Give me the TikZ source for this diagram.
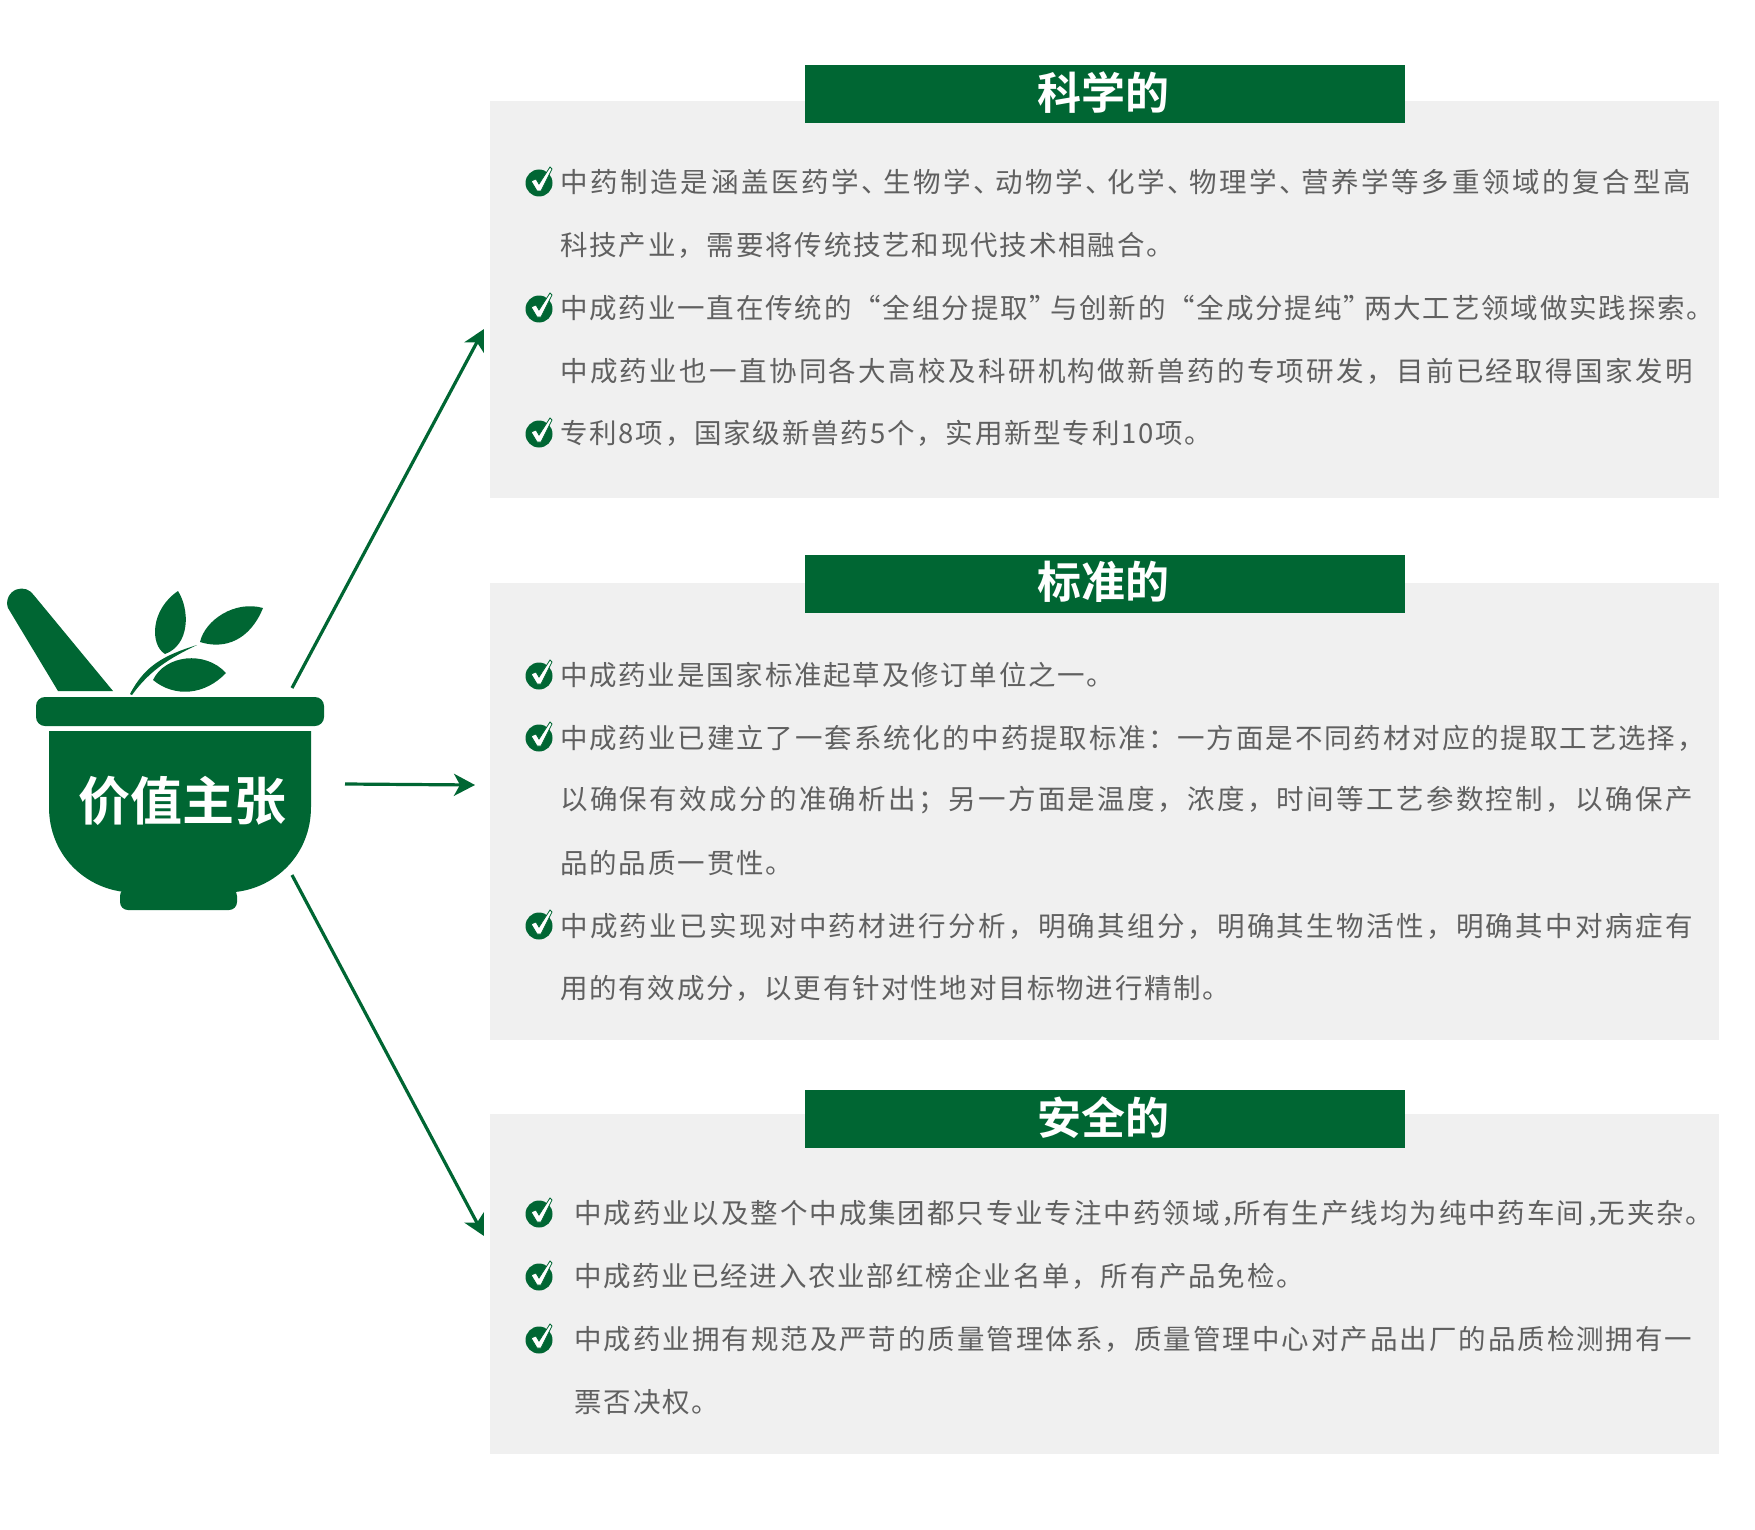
\documentclass[tikz,border=0pt]{standalone}
\usepackage{fontspec}
\usetikzlibrary{arrows.meta}
\newfontfamily\bodyfont{Noto Sans CJK SC}
\newfontfamily\titlefont{Noto Sans CJK SC Bold}
\definecolor{herbgreen}{HTML}{006633}
\definecolor{panelgray}{HTML}{F0F0F0}
\definecolor{textgray}{HTML}{606060}
\newcommand{\tightk}[1]{\kern-#1pt}

\tikzstyle{panel} = [fill=panelgray, draw=none]
\tikzstyle{header} = [fill=herbgreen, draw=none]
\tikzstyle{headtext} = [text=white, font=\titlefont\fontsize{44}{52}\selectfont, inner sep=0pt]
\tikzstyle{textline}[6.5] = [anchor=west, inner sep=0pt, text=textgray,
    font=\bodyfont\fontsize{27.5}{33}\selectfont\addfontfeatures{LetterSpace=#1}]
\tikzstyle{line} = [draw=herbgreen, line width=3.2pt, -{Stealth[length=21pt, width=22pt, inset=6pt]}]
\tikzset{
  checkdot/.pic={
    \fill[herbgreen] (0,1) circle [radius=13.5];
    \filldraw[fill=white, draw=herbgreen, line width=0.8pt]
      (-8,-1) -- (-3,-3) -- (0,2) -- (11,-15) -- (13,-13) -- (2,9) -- (-2,9) -- cycle;
  }
}

\begin{document}
\begin{tikzpicture}[x=1pt, y=-1pt]
\useasboundingbox (0,0) rectangle (1755,1530);

%Panels
\path [panel] (490,101) rectangle (1719,498);
\path [panel] (490,583) rectangle (1719,1040);
\path [panel] (490,1114) rectangle (1719,1454);
\path [header] (805,65) rectangle (1405,123);
\path [header] (805,555) rectangle (1405,613);
\path [header] (805,1090) rectangle (1405,1148);
\node (TitleA) [headtext] at (1103,93) {科学的};
\node (TitleB) [headtext] at (1103,582) {标准的};
\node (TitleC) [headtext] at (1103,1118) {安全的};

%Mortar
\fill [herbgreen] (8,608) arc [start angle=160, end angle=326, radius=14.5]
  -- (113,691) -- (58,691) -- cycle;
\fill [herbgreen, rounded corners=9pt] (36,697) rectangle (324,726);
\fill [herbgreen] (49,731) -- (311,731) -- (311,807)
  .. controls (311,855) and (275,888) .. (235,892) -- (125,892)
  .. controls (85,888) and (49,855) .. (49,807) -- cycle;
\fill [herbgreen, rounded corners=8pt] (120,888) rectangle (237,910);
\fill [herbgreen] (178,591) .. controls (190,610) and (190,645) .. (165,654)
  .. controls (150,645) and (150,610) .. (178,591) -- cycle;
\fill [herbgreen] (263,608) .. controls (250,640) and (225,650) .. (200,642)
  .. controls (205,620) and (235,600) .. (263,608) -- cycle;
\fill [herbgreen] (226,673) .. controls (205,695) and (175,698) .. (153,680)
  .. controls (165,655) and (205,650) .. (226,673) -- cycle;
\fill [herbgreen] (130,694) .. controls (145,665) and (165,655) .. (197,645)
  .. controls (170,658) and (150,670) .. (132,695) -- cycle;
\node (Claim) [text=white, font=\titlefont\fontsize{52}{60}\selectfont, inner sep=0pt] at (182,801) {价值主张};

%Arrows
\coordinate (StartA) at (292,688);
\coordinate (StartB) at (345,784);
\coordinate (StartC) at (292,875);
\coordinate (EndA) at (484,329);
\coordinate (EndB) at (475,785);
\coordinate (EndC) at (484,1236);
\path [line] (StartA)--(EndA);
\path [line] (StartB)--(EndB);
\path [line] (StartC)--(EndC);

%Above
\pic at (539,182) {checkdot};
\pic at (539,308) {checkdot};
\pic at (539,433) {checkdot};
\node (LineAa) [textline=9.7] at (560,182) {中药制造是涵盖医药学、\tightk{6}生物学、\tightk{6}动物学、\tightk{6}化学、\tightk{6}物理学、\tightk{6}营养学等多重领域的复合型高};
\node (LineAb) [textline=6.6] at (560,245) {科技产业，需要将传统技艺和现代技术相融合。};
\node (LineAc) [textline=6.7] at (560,308) {中成药业一直在传统的“全组分提取”\tightk{7}与创新的“全成分提纯”\tightk{7}两大工艺领域做实践探索。};
\node (LineAd) [textline=8.6] at (560,371) {中成药业也一直协同各大高校及科研机构做新兽药的专项研发，目前已经取得国家发明};
\node (LineAe) [textline=6.5] at (560,433) {专利8项，国家级新兽药5个，实用新型专利10项。};

%Middle
\pic at (539,675) {checkdot};
\pic at (539,737) {checkdot};
\pic at (539,925) {checkdot};
\node (LineBa) [textline=6.4] at (560,675) {中成药业是国家标准起草及修订单位之一。};
\node (LineBb) [textline=6.9] at (560,738) {中成药业已建立了一套系统化的中药提取标准：一方面是不同药材对应的提取工艺选择，};
\node (LineBc) [textline=8.6] at (560,800) {以确保有效成分的准确析出；另一方面是温度，浓度，时间等工艺参数控制，以确保产};
\node (LineBd) [textline=6.8] at (560,863) {品的品质一贯性。};
\node (LineBe) [textline=8.6] at (560,926) {中成药业已实现对中药材进行分析，明确其组分，明确其生物活性，明确其中对病症有};
\node (LineBf) [textline=6.2] at (560,988) {用的有效成分，以更有针对性地对目标物进行精制。};

%Below
\pic at (539,1213) {checkdot};
\pic at (539,1276) {checkdot};
\pic at (539,1339) {checkdot};
\node (LineCa) [textline=7] at (574,1213) {中成药业以及整个中成集团都只专业专注中药领域，\tightk{16}所有生产线均为纯中药车间，\tightk{16}无夹杂。};
\node (LineCb) [textline=6.4] at (574,1276) {中成药业已经进入农业部红榜企业名单，所有产品免检。};
\node (LineCc) [textline=7.2] at (574,1339) {中成药业拥有规范及严苛的质量管理体系，质量管理中心对产品出厂的品质检测拥有一};
\node (LineCd) [textline=7] at (574,1402) {票否决权。};

\end{tikzpicture}
\end{document}
